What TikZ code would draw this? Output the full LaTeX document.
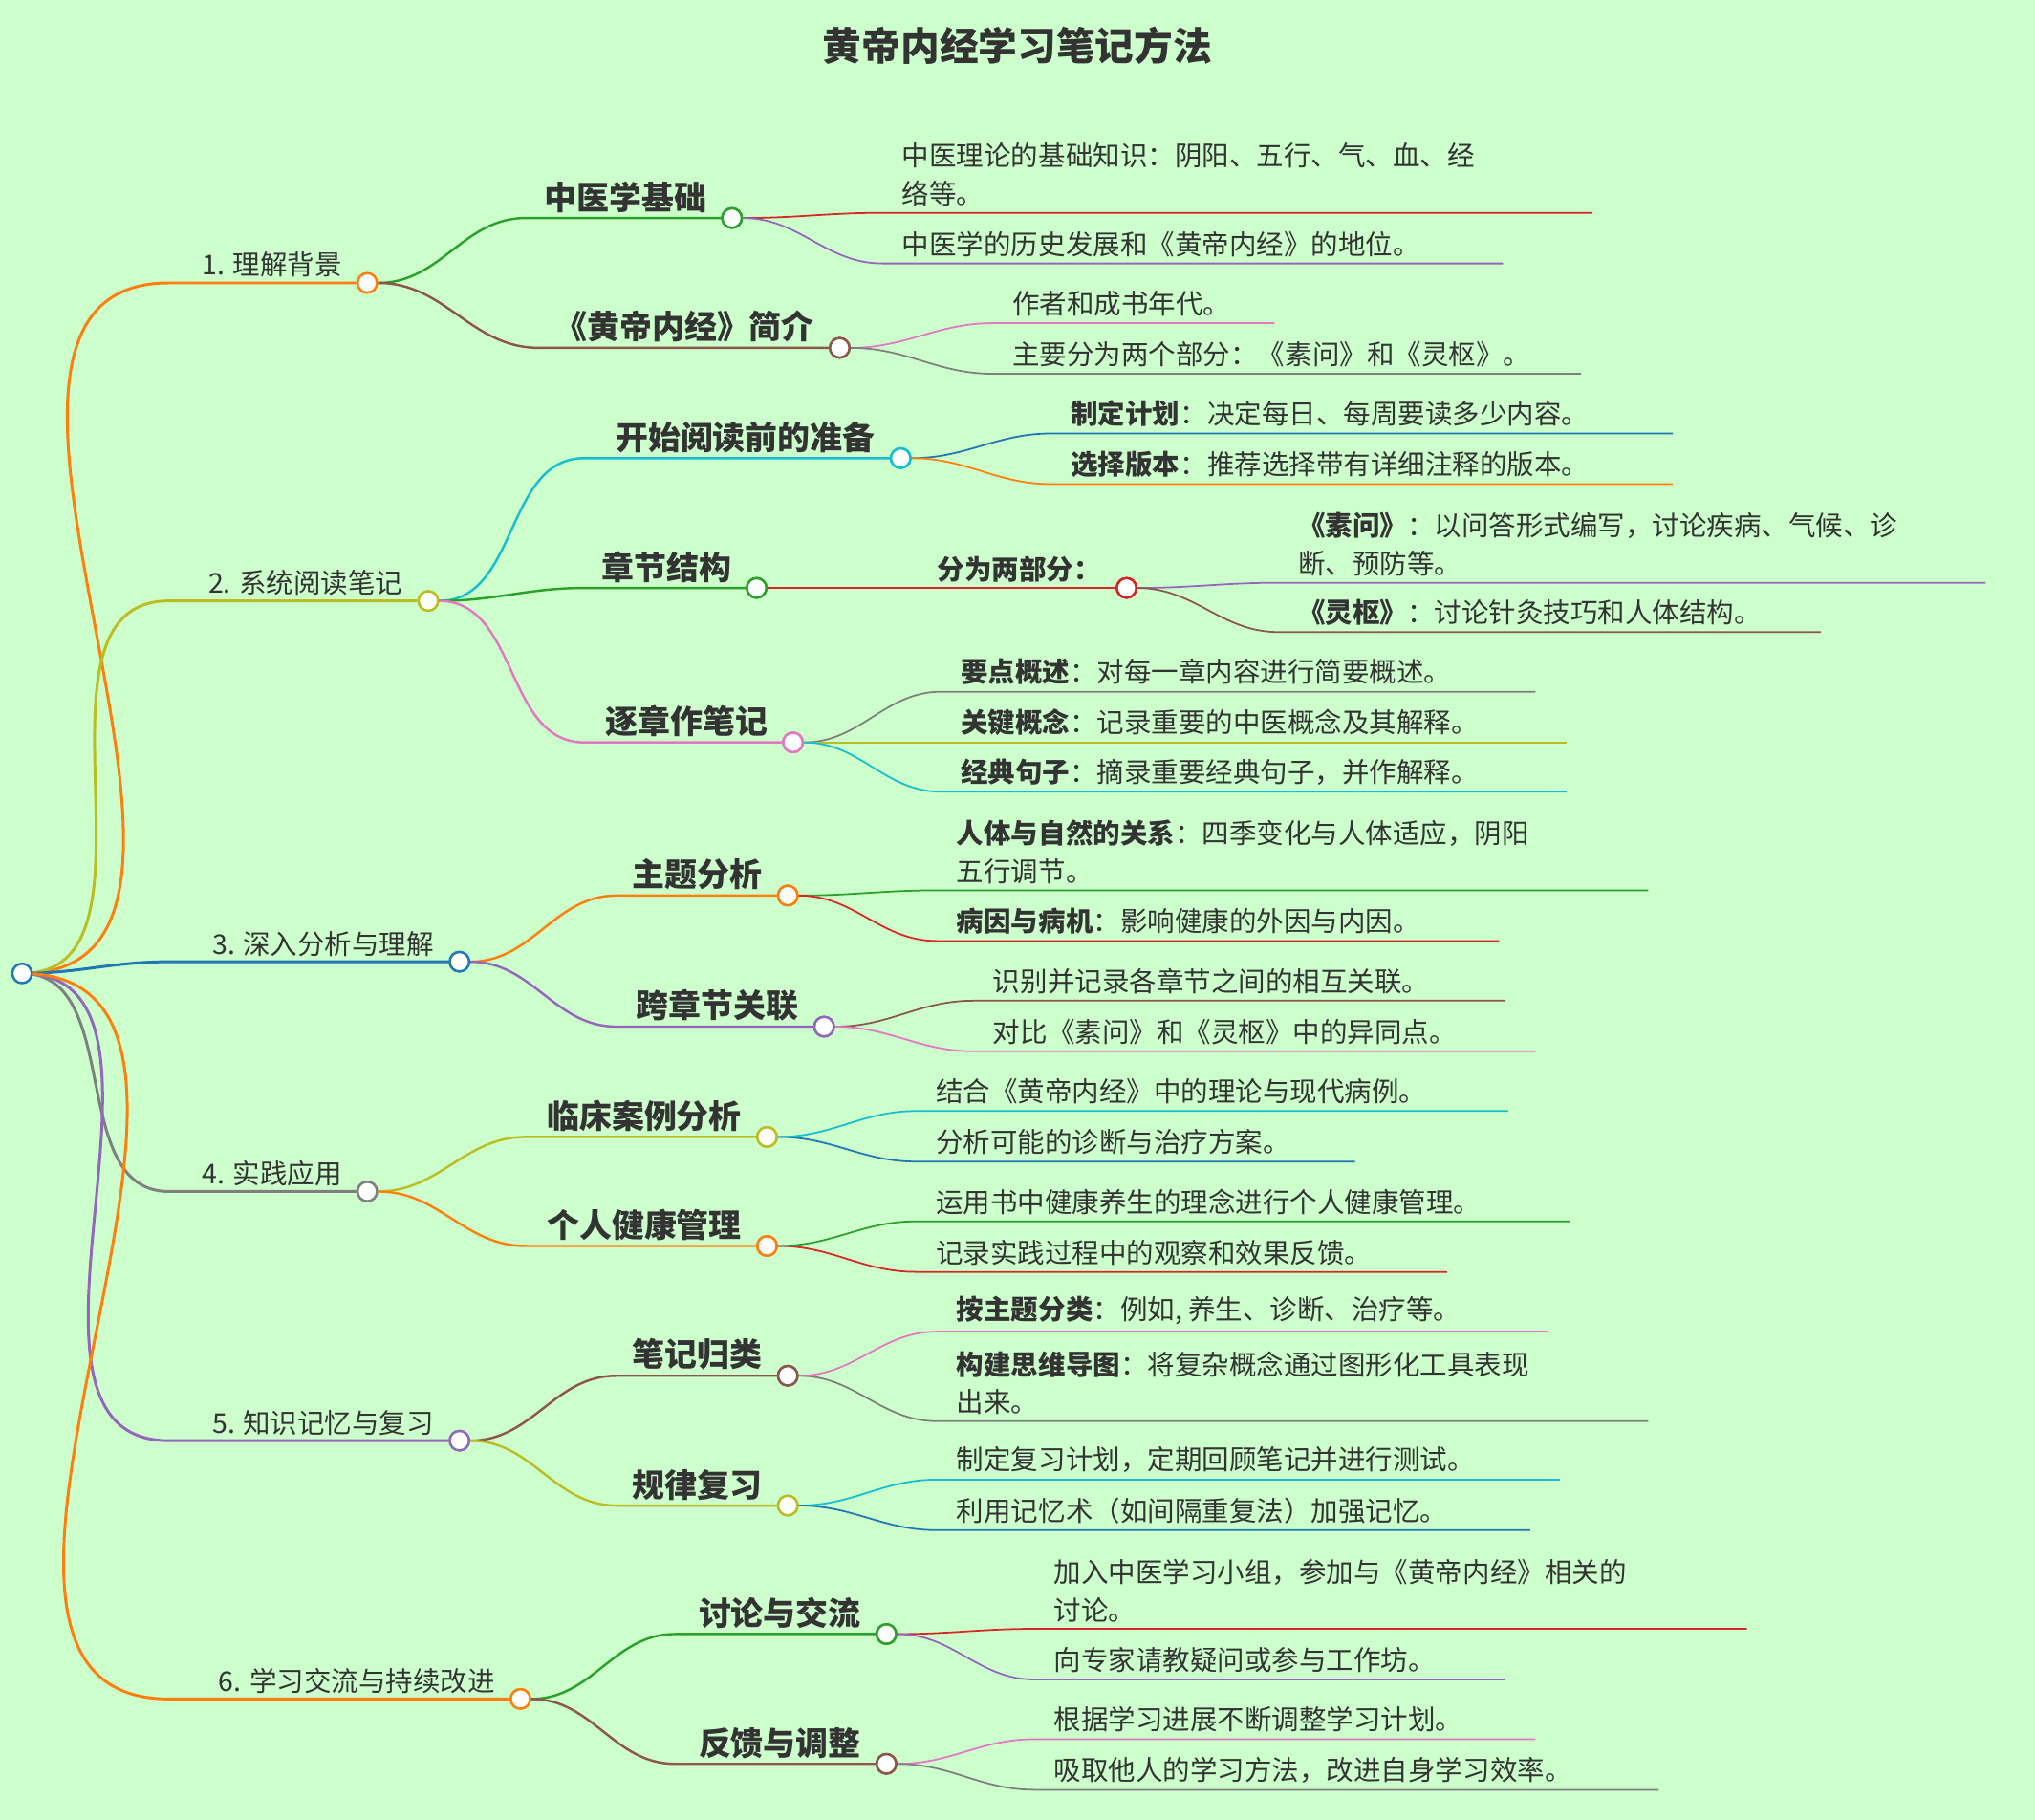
\documentclass[tikz,border=0pt]{standalone}
\usepackage{fontspec}
\setmainfont{Noto Sans CJK SC}
\usetikzlibrary{calc}
\definecolor{bg}{RGB}{204,255,204}
\definecolor{tx}{RGB}{51,51,51}
\definecolor{cO}{RGB}{255,127,14}
\definecolor{cY}{RGB}{188,189,34}
\definecolor{cB}{RGB}{31,119,180}
\definecolor{cG}{RGB}{127,127,127}
\definecolor{cP}{RGB}{148,103,189}
\definecolor{cGr}{RGB}{44,160,44}
\definecolor{cBr}{RGB}{140,86,75}
\definecolor{cC}{RGB}{23,190,207}
\definecolor{cPk}{RGB}{227,119,194}
\definecolor{cR}{RGB}{214,39,40}
\tikzset{
 ltext/.style={text=tx,font=\fontsize{21}{29}\selectfont,align=left,inner sep=0pt},
 mtext/.style={text=tx,font=\fontsize{25}{30}\selectfont\bfseries,inner sep=0pt},
 dot/.style={circle,draw,fill=white,line width=1.8pt,minimum size=15pt,inner sep=0pt},
}
% level node: #1 name, #2 color, #3 parent, #4 line start x, #5 circle x, #6 y, #7 text, #8 text style, #9 width
\newcommand\branch[9]{%
 \coordinate (#1s) at (#4,#6);
 \node[dot,draw=#2] (#1) at (#5,#6) {};
 \draw[#2,line width=#9] (#3) to[out=0,in=180] (#1s) -- (#1.west);
 \node[#8,anchor=south east] (#1t) at ([xshift=-11pt,yshift=4pt]#1.west) {#7};
 \node[dot,draw=#2] at (#1) {};
}
\newcommand\leaf[7]{%
 \coordinate (#1s) at (#4,#6); \coordinate (#1e) at (#5,#6);
 \draw[#2,line width=1.3pt] (#3) to[out=0,in=180] (#1s) -- (#1e);
 \node[ltext,anchor=south west] (#1t) at ([xshift=15pt,yshift=5pt]#1s) {#7};
}
\begin{document}
\begin{tikzpicture}[x=1pt,y=-1pt]
\fill[bg] (0,0) rectangle (1568,1402);
\useasboundingbox (0,0) rectangle (1568,1402);
\node[mtext,font=\fontsize{30}{34}\selectfont\bfseries] (title) at (784,35) {黄帝内经学习笔记方法};
\coordinate (root) at (17,750);
% level 1
\branch{a}{cO}{root}{130}{283}{218}{1. 理解背景}{ltext}{2.2pt}
\branch{b}{cY}{root}{130}{330}{463}{2. 系统阅读笔记}{ltext}{2.2pt}
\branch{c}{cB}{root}{130}{354}{741}{3. 深入分析与理解}{ltext}{2.2pt}
\branch{d}{cG}{root}{130}{283}{918}{4. 实践应用}{ltext}{2.2pt}
\branch{e}{cP}{root}{130}{354}{1110}{5. 知识记忆与复习}{ltext}{2.2pt}
\branch{f}{cO}{root}{130}{401}{1309}{6. 学习交流与持续改进}{ltext}{2.2pt}
% level 2
\branch{a1}{cGr}{a}{405}{564}{168}{中医学基础}{mtext}{1.8pt}
\branch{a2}{cBr}{a}{415}{647}{268}{《黄帝内经》简介}{mtext}{1.8pt}
\branch{b1}{cC}{b}{450}{694}{353}{开始阅读前的准备}{mtext}{1.8pt}
\branch{b2}{cGr}{b}{450}{583}{453}{章节结构}{mtext}{1.8pt}
\branch{b3}{cPk}{b}{450}{611}{572}{逐章作笔记}{mtext}{1.8pt}
\branch{c1}{cO}{c}{475}{607}{690}{主题分析}{mtext}{1.8pt}
\branch{c2}{cP}{c}{475}{635}{791}{跨章节关联}{mtext}{1.8pt}
\branch{d1}{cY}{d}{405}{591}{876}{临床案例分析}{mtext}{1.8pt}
\branch{d2}{cO}{d}{405}{591}{960}{个人健康管理}{mtext}{1.8pt}
\branch{e1}{cBr}{e}{475}{607}{1060}{笔记归类}{mtext}{1.8pt}
\branch{e2}{cY}{e}{475}{607}{1160}{规律复习}{mtext}{1.8pt}
\branch{f1}{cGr}{f}{520}{683}{1259}{讨论与交流}{mtext}{1.8pt}
\branch{f2}{cBr}{f}{520}{683}{1359}{反馈与调整}{mtext}{1.8pt}
\branch{b21}{cR}{b2}{700}{868}{453}{分为两部分：}{ltext,font=\fontsize{21}{29}\selectfont\bfseries}{1.5pt}
% leaves
\leaf{a11}{cR}{a1}{680}{1227}{164}{中医理论的基础知识：阴阳、五行、气、血、经\\络等。}
\leaf{a12}{cP}{a1}{680}{1158}{203}{中医学的历史发展和《黄帝内经》的地位。}
\leaf{a21}{cPk}{a2}{765}{982}{249}{作者和成书年代。}
\leaf{a22}{cG}{a2}{765}{1218}{288}{主要分为两个部分：《素问》和《灵枢》。}
\leaf{b11}{cB}{b1}{810}{1289}{334}{\textbf{制定计划}：决定每日、每周要读多少内容。}
\leaf{b12}{cO}{b1}{810}{1289}{373}{\textbf{选择版本}：推荐选择带有详细注释的版本。}
\leaf{b211}{cP}{b21}{985}{1530}{449}{\textbf{《素问》}：以问答形式编写，讨论疾病、气候、诊\\断、预防等。}
\leaf{b212}{cBr}{b21}{985}{1403}{487}{\textbf{《灵枢》}：讨论针灸技巧和人体结构。}
\leaf{b31}{cG}{b3}{725}{1183}{533}{\textbf{要点概述}：对每一章内容进行简要概述。}
\leaf{b32}{cY}{b3}{725}{1207}{572}{\textbf{关键概念}：记录重要的中医概念及其解释。}
\leaf{b33}{cC}{b3}{725}{1207}{610}{\textbf{经典句子}：摘录重要经典句子，并作解释。}
\leaf{c11}{cGr}{c1}{722}{1270}{686}{\textbf{人体与自然的关系}：四季变化与人体适应，阴阳\\五行调节。}
\leaf{c12}{cR}{c1}{722}{1155}{725}{\textbf{病因与病机}：影响健康的外因与内因。}
\leaf{c21}{cBr}{c2}{750}{1160}{771}{识别并记录各章节之间的相互关联。}
\leaf{c22}{cPk}{c2}{750}{1183}{810}{对比《素问》和《灵枢》中的异同点。}
\leaf{d11}{cC}{d1}{706}{1162}{856}{结合《黄帝内经》中的理论与现代病例。}
\leaf{d12}{cB}{d1}{706}{1044}{895}{分析可能的诊断与治疗方案。}
\leaf{d21}{cGr}{d2}{706}{1210}{941}{运用书中健康养生的理念进行个人健康管理。}
\leaf{d22}{cR}{d2}{706}{1115}{980}{记录实践过程中的观察和效果反馈。}
\leaf{e11}{cPk}{e1}{722}{1193}{1026}{\textbf{按主题分类}：例如, 养生、诊断、治疗等。}
\leaf{e12}{cG}{e1}{722}{1270}{1095}{\textbf{构建思维导图}：将复杂概念通过图形化工具表现\\出来。}
\leaf{e21}{cC}{e2}{722}{1202}{1140}{制定复习计划，定期回顾笔记并进行测试。}
\leaf{e22}{cB}{e2}{722}{1179}{1179}{利用记忆术（如间隔重复法）加强记忆。}
\leaf{f11}{cR}{f1}{797}{1346}{1255}{加入中医学习小组，参加与《黄帝内经》相关的\\讨论。}
\leaf{f12}{cP}{f1}{797}{1160}{1294}{向专家请教疑问或参与工作坊。}
\leaf{f21}{cPk}{f2}{797}{1183}{1340}{根据学习进展不断调整学习计划。}
\leaf{f22}{cG}{f2}{797}{1278}{1379}{吸取他人的学习方法，改进自身学习效率。}
% redraw circles on top
\foreach \n/\c in {a1/cGr,a2/cBr,b1/cC,b2/cGr,b3/cPk,c1/cO,c2/cP,d1/cY,d2/cO,e1/cBr,e2/cY,f1/cGr,f2/cBr,b21/cR}
 \node[dot,draw=\c] at (\n) {};
\node[dot,draw=cB] (rootc) at (root) {};
\end{tikzpicture}
\end{document}
